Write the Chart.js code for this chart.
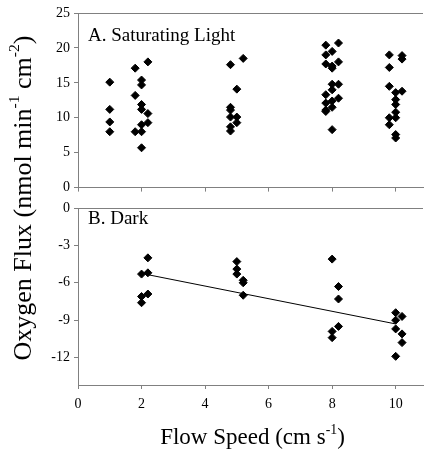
<!DOCTYPE html>
<html>
<head>
<meta charset="utf-8">
<script src="https://cdn.jsdelivr.net/npm/chart.js@4.4.1/dist/chart.umd.min.js"></script>
<style>
  body { margin: 0; background: #fff; }
  #wrap { position: relative; width: 428px; height: 452px; font-family: "Liberation Serif", "Times New Roman", serif; color: #000; }
  canvas { position: absolute; left: 0; }
  #lightChart { top: 0; }
  #darkChart { top: 195px; }
  sup { font-size: 0.6em; vertical-align: 0.75em; line-height: 0; }
  #yTitle { position: absolute; left: -177px; top: 185px; width: 400px; height: 26px; line-height: 26px;
            font-size: 26px; text-align: center; white-space: nowrap; transform: rotate(-90deg); }
  #xTitle { position: absolute; left: 78px; top: 424px; width: 349px; line-height: 26px;
            font-size: 23px; text-align: center; white-space: nowrap; }
</style>
</head>
<body>
<div id="wrap">
  <canvas id="lightChart" width="428" height="200"></canvas>
  <canvas id="darkChart" width="428" height="225"></canvas>
  <div id="yTitle">Oxygen Flux (nmol min<sup>-1</sup> cm<sup>-2</sup>)</div>
  <div id="xTitle">Flow Speed (cm s<sup>-1</sup>)</div>
</div>
<script>
// tick labels
var xTicks = [0, 2, 4, 6, 8, 10];
var lightTicks = [0, 5, 10, 15, 20, 25];
var darkTicks = [0, -3, -6, -9, -12];

// A. saturating light
var lightX = [1, 1, 1, 1,
              1.8, 1.8, 1.8,
              2, 2, 2, 2, 2, 2, 2,
              2.2, 2.2, 2.2,
              4.8, 4.8, 4.8, 4.8, 4.8, 4.8,
              5, 5, 5,
              5.2,
              7.8, 7.8, 7.8, 7.8, 7.8, 7.8, 7.8,
              8, 8, 8, 8, 8, 8, 8, 8,
              8.2, 8.2, 8.2, 8.2,
              9.8, 9.8, 9.8, 9.8, 9.8,
              10, 10, 10, 10, 10, 10, 10,
              10.2, 10.2, 10.2];
var lightY = [15.1, 11.2, 9.4, 8.0,
              17.1, 13.2, 8.0,
              15.4, 14.7, 11.9, 11.2, 9.0, 8.0, 5.7,
              18.0, 10.6, 9.3,
              17.6, 11.5, 11.1, 10.1, 8.7, 8.1,
              14.1, 10.1, 9.3,
              18.5,
              20.4, 19.0, 17.7, 13.3, 12.1, 11.1, 10.9,
              19.5, 17.4, 17.1, 14.8, 14.0, 12.4, 11.5, 8.3,
              20.7, 18.0, 14.8, 12.8,
              19.0, 17.2, 14.5, 10.0, 9.0,
              13.6, 12.6, 11.9, 10.8, 10.0, 7.6, 7.1,
              18.9, 18.4, 13.8];

// B. dark
var darkX = [2, 2, 2, 2.2, 2.2, 2.2,
             5, 5, 5, 5.2, 5.2, 5.2,
             8, 8, 8, 8.2, 8.2, 8.2,
             10, 10, 10, 10, 10.2, 10.2, 10.2];
var darkY = [-5.3, -7.1, -7.6, -4.0, -5.2, -6.9,
             -4.3, -4.9, -5.3, -5.8, -6.0, -7.0,
             -4.1, -9.9, -10.4, -6.3, -7.3, -9.5,
             -8.4, -9.0, -9.7, -11.9, -8.7, -10.1, -10.8];

// regression line (dark)
var trendX = [2.1, 10];
var trendY = [-5.3, -9.3];

function toPoints(xs, ys) {
    return xs.map(function(x, i) { return { x: x, y: ys[i] }; });
}

var axisGrey = '#808080';

// panel label + top frame line
var panelPlugin = {
    id: 'panelLabel',
    afterDraw: function(chart, args, opts) {
        var ctx = chart.ctx;
        var area = chart.chartArea;
        ctx.save();
        ctx.strokeStyle = axisGrey;
        ctx.lineWidth = 1;
        ctx.beginPath();
        ctx.moveTo(area.left, area.top + 0.5);
        ctx.lineTo(area.right, area.top + 0.5);
        ctx.stroke();
        ctx.fillStyle = '#000';
        ctx.font = '19px "Liberation Serif", serif';
        ctx.textBaseline = 'alphabetic';
        ctx.fillText(opts.text, area.left + 10, area.top + opts.dy);
        ctx.restore();
    }
};

function makeChart(id, datasets, yTicks, yMin, yMax, label, labelDy, showXLabels, xHeight, topPad) {
    return new Chart(document.getElementById(id), {
        type: 'scatter',
        data: { datasets: datasets },
        options: {
            responsive: false,
            animation: false,
            layout: { padding: { top: topPad, right: 1, left: 0, bottom: 0 } },
            plugins: {
                legend: { display: false },
                tooltip: { enabled: false },
                panelLabel: { text: label, dy: labelDy }
            },
            scales: {
                x: {
                    type: 'linear',
                    min: 0,
                    max: 10.86,
                    afterBuildTicks: function(scale) {
                        scale.ticks = xTicks.map(function(v) { return { value: v }; });
                    },
                    afterFit: function(scale) { scale.height = xHeight; },
                    grid: { drawOnChartArea: false, drawTicks: true, tickLength: 4, color: axisGrey },
                    border: { color: axisGrey },
                    ticks: {
                        display: showXLabels,
                        color: '#000',
                        padding: 7,
                        maxRotation: 0,
                        font: { family: '"Liberation Serif", serif', size: 14 }
                    }
                },
                y: {
                    type: 'linear',
                    min: yMin,
                    max: yMax,
                    afterBuildTicks: function(scale) {
                        scale.ticks = yTicks.map(function(v) { return { value: v }; });
                    },
                    afterFit: function(scale) { scale.width = 78; },
                    grid: { drawOnChartArea: false, drawTicks: true, tickLength: 4, color: axisGrey },
                    border: { color: axisGrey },
                    ticks: {
                        color: '#000',
                        padding: 4,
                        font: { family: '"Liberation Serif", serif', size: 14 }
                    }
                }
            }
        },
        plugins: [panelPlugin]
    });
}

var markerStyle = {
    pointStyle: 'rectRot',
    pointRadius: 4,
    pointBackgroundColor: '#000',
    pointBorderColor: '#000',
    pointBorderWidth: 1
};

makeChart('lightChart', [
    Object.assign({ data: toPoints(lightX, lightY) }, markerStyle)
], lightTicks, 0, 25, 'A. Saturating Light', 28, false, 11, 13);

makeChart('darkChart', [
    Object.assign({ data: toPoints(darkX, darkY) }, markerStyle),
    {
        type: 'line',
        data: toPoints(trendX, trendY),
        showLine: true,
        borderColor: '#000',
        borderWidth: 1,
        pointRadius: 0,
        fill: false
    }
], darkTicks, -14.2, 0, 'B. Dark', 16, true, 35, 13);
</script>
</body>
</html>
